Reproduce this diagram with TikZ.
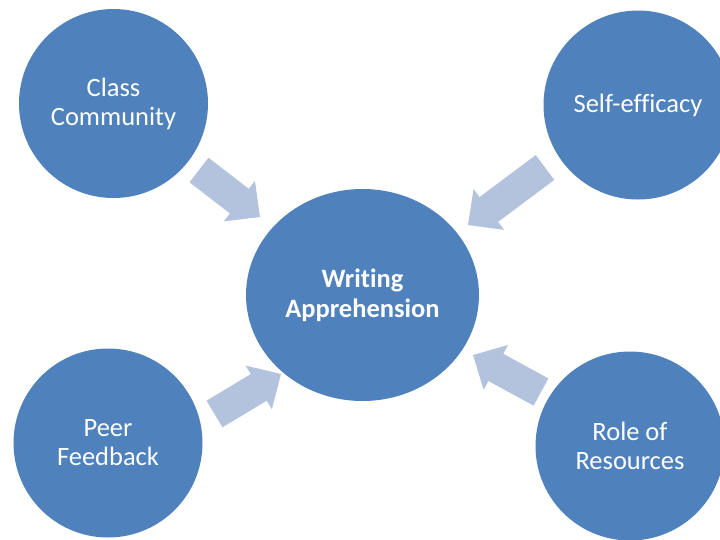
\documentclass[tikz,border=0pt]{standalone}
\usepackage{fontspec}
\setmainfont{Carlito}[Ligatures=NoCommon]
\usetikzlibrary{calc,shapes.geometric}
\definecolor{circblue}{HTML}{4F81BD}
\definecolor{arrblue}{HTML}{B3C3DE}
\tikzset{
  bubble/.style={circle, fill=circblue, draw=none, minimum size=189pt, inner sep=0pt,
    text=white, align=center, font=\fontsize{26.5}{29}\selectfont},
  core/.style={ellipse, fill=circblue, draw=none, minimum width=233pt, minimum height=212pt,
    inner sep=0pt, text=white, align=center, font=\bfseries\fontsize{26.5}{30}\selectfont},
  arrowfill/.style={fill=arrblue, draw=none}
}
\newcommand{\blockarr}[2]{%
  \coordinate (#1hb) at ($(#2)!26pt!(#1)$);
  \fill[arrowfill] ($(#1)!15.5pt!90:(#2)$) -- ($(#1hb)!15.5pt!-90:(#1)$) --
    ($(#1hb)!25.5pt!-90:(#1)$) -- (#2) -- ($(#1hb)!25.5pt!90:(#1)$) --
    ($(#1hb)!15.5pt!90:(#1)$) -- ($(#1)!15.5pt!-90:(#2)$) -- cycle;
}
\begin{document}
\begin{tikzpicture}[x=1pt,y=-1pt]
\useasboundingbox (0,0) rectangle (720,539);
\clip (0,0) rectangle (720,539);
\node[bubble] (cc) at (113.5,103.5) {Class\\Community};
\node[bubble] (se) at (638,105) {Self-efficacy};
\node[bubble] (pf) at (108,443) {Peer\\Feedback};
\node[bubble] (rr) at (630,446) {Role of\\Resources};
\node[core] (wa) at (362.5,295) {Writing\\Apprehension};
\coordinate (a1t) at (199,170);   \coordinate (a1h) at (260,217);
\coordinate (a2t) at (545,167.5); \coordinate (a2h) at (468,225);
\coordinate (a3t) at (214.5,414); \coordinate (a3h) at (281,374);
\coordinate (a4t) at (541,392);   \coordinate (a4h) at (473,355);
\blockarr{a1t}{a1h}
\blockarr{a2t}{a2h}
\blockarr{a3t}{a3h}
\blockarr{a4t}{a4h}
\end{tikzpicture}
\end{document}
